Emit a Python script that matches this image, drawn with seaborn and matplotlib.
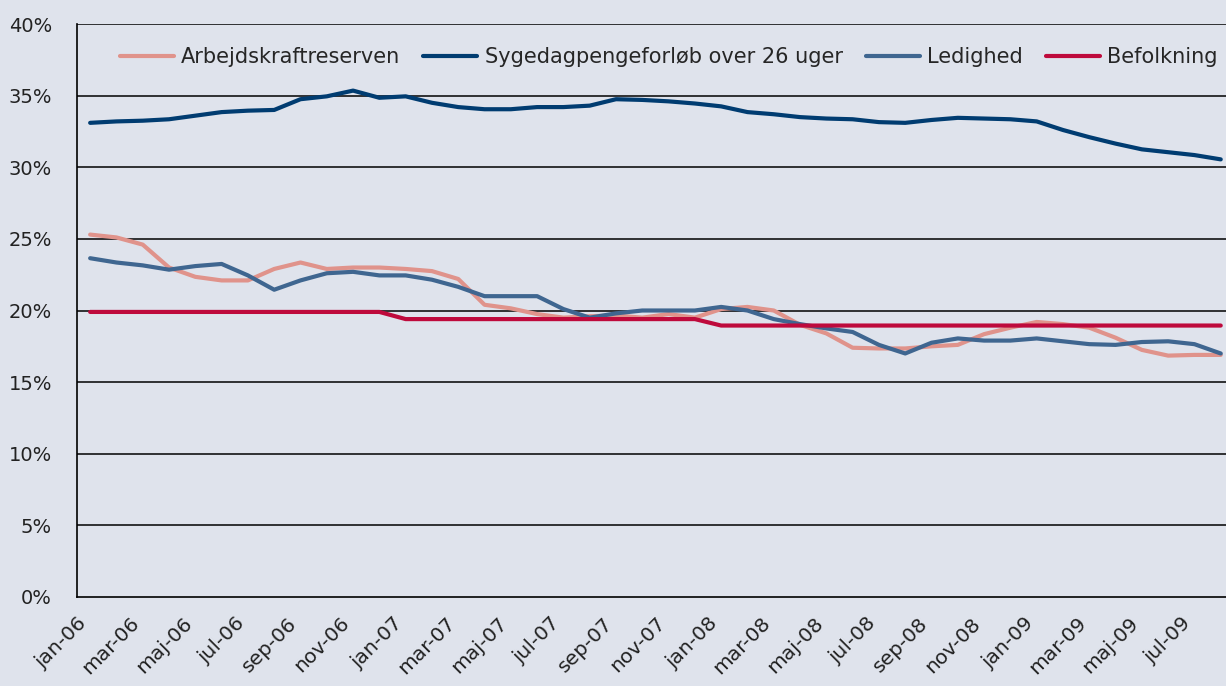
import matplotlib
matplotlib.use("Agg")
import matplotlib.pyplot as plt
import numpy as np
import pandas as pd
import seaborn as sns

# monthly values (mid-month), jan-06 .. aug-09
arbejdskraft = [25.3, 25.1, 24.6, 23.0, 22.35, 22.1, 22.1, 22.9, 23.35, 22.9, 23.0, 23.0,
                22.9, 22.75, 22.2, 20.4, 20.15, 19.75, 19.5, 19.6, 19.65, 19.5, 19.75, 19.5,
                20.1, 20.25, 20.0, 19.0, 18.4, 17.4, 17.35, 17.35, 17.5, 17.6, 18.35, 18.8,
                19.2, 19.05, 18.8, 18.1, 17.25, 16.85, 16.9, 16.9]
sygedagpenge = [33.1, 33.2, 33.25, 33.35, 33.6, 33.85, 33.95, 34.0, 34.75, 34.95, 35.35, 34.85,
                34.95, 34.5, 34.2, 34.05, 34.05, 34.2, 34.2, 34.3, 34.75, 34.7, 34.6, 34.45,
                34.25, 33.85, 33.7, 33.5, 33.4, 33.35, 33.15, 33.1, 33.3, 33.45, 33.4, 33.35,
                33.2, 32.6, 32.1, 31.65, 31.25, 31.05, 30.85, 30.55]
ledighed = [23.65, 23.35, 23.15, 22.85, 23.1, 23.25, 22.45, 21.45, 22.1, 22.6, 22.7, 22.45,
            22.45, 22.15, 21.65, 21.0, 21.0, 21.0, 20.1, 19.5, 19.8, 20.0, 20.0, 20.0,
            20.25, 20.0, 19.4, 19.05, 18.75, 18.5, 17.6, 17.0, 17.75, 18.05, 17.9, 17.9,
            18.05, 17.85, 17.65, 17.6, 17.8, 17.85, 17.65, 17.0]
befolkning = [19.9, 19.9, 19.9, 19.9, 19.9, 19.9, 19.9, 19.9, 19.9, 19.9, 19.9, 19.9,
              19.4, 19.4, 19.4, 19.4, 19.4, 19.4, 19.4, 19.4, 19.4, 19.4, 19.4, 19.4,
              18.95, 18.95, 18.95, 18.95, 18.95, 18.95, 18.95, 18.95, 18.95, 18.95, 18.95, 18.95,
              18.95, 18.95, 18.95, 18.95, 18.95, 18.95, 18.95, 18.95]

series_names = ['Arbejdskraftreserven', 'Sygedagpengeforløb over 26 uger', 'Ledighed', 'Befolkning']
colors = ['#e0938b', '#003c71', '#3f6690', '#be0a3c']
tick_labels = ['jan-06', 'mar-06', 'maj-06', 'jul-06', 'sep-06', 'nov-06',
               'jan-07', 'mar-07', 'maj-07', 'jul-07', 'sep-07', 'nov-07',
               'jan-08', 'mar-08', 'maj-08', 'jul-08', 'sep-08', 'nov-08',
               'jan-09', 'mar-09', 'maj-09', 'jul-09']

month_pos = np.arange(len(arbejdskraft)) + 0.5
frames = []
for name, vals in zip(series_names, [arbejdskraft, sygedagpenge, ledighed, befolkning]):
    frames.append(pd.DataFrame({'month': month_pos, 'value': vals, 'serie': name}))
df = pd.concat(frames, ignore_index=True)

bg = '#dfe3ec'
sns.set_style('white')
plt.rcParams['font.family'] = ['DejaVu Sans']

fig = plt.figure(figsize=(12.26, 6.86), dpi=100, facecolor=bg)
ax = fig.add_axes([77 / 1226, 1 - 597 / 686, 1 - 77 / 1226, (597 - 24) / 686])
ax.set_facecolor(bg)

for y in range(5, 45, 5):
    ax.axhline(y, color='black', lw=1.1, zorder=1)

sns.lineplot(data=df, x='month', y='value', hue='serie', hue_order=series_names,
             palette=dict(zip(series_names, colors)), lw=3, ax=ax, zorder=3)

ax.set_xlim(0, 43.7)
ax.set_ylim(0, 40)
ax.set_yticks(range(0, 45, 5))
ax.set_yticklabels([f'{v}%' for v in range(0, 45, 5)], fontsize=14, color='#222222')
ax.set_xticks(range(0, 2 * len(tick_labels), 2))
ax.set_xticklabels(tick_labels, rotation=45, ha='right', rotation_mode='anchor',
                   fontsize=14.5, color='#222222')
ax.tick_params(axis='both', direction='out', length=6, width=1, color='black')
ax.tick_params(axis='y', pad=12)
ax.tick_params(axis='x', pad=6)
ax.set_xlabel('')
ax.set_ylabel('')

for side in ['top', 'right']:
    ax.spines[side].set_visible(False)
for side in ['left', 'bottom']:
    ax.spines[side].set_color('black')
    ax.spines[side].set_linewidth(1.2)

handles, labels = ax.get_legend_handles_labels()
ax.legend(handles, labels, loc='center', bbox_to_anchor=(0.515, 0.942), ncol=4,
          frameon=False, fontsize=15, handlelength=2.6, handletextpad=0.35,
          columnspacing=1.1, borderaxespad=0)

fig.savefig('out.png', dpi=100, facecolor=bg)
